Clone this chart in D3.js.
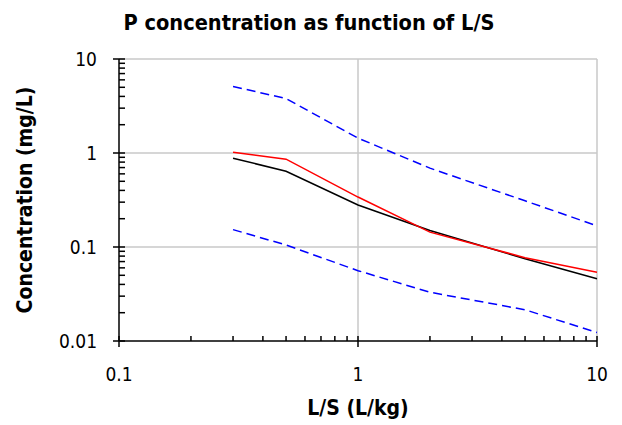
<!DOCTYPE html>
<html><head><meta charset="utf-8">
<script src="https://cdn.jsdelivr.net/npm/d3@7"></script>
<style>body{margin:0;background:#fff}svg{display:block}</style>
</head><body>
<svg id="c" width="622" height="425"></svg>
<script>
const xs = [0.3, 0.5, 1, 2, 5, 10];
const red = [1.02, 0.86, 0.34, 0.144, 0.077, 0.054];
const black = [0.88, 0.64, 0.28, 0.15, 0.075, 0.046];
const upper = [5.1, 3.8, 1.44, 0.69, 0.31, 0.168];
const lower = [0.153, 0.105, 0.056, 0.033, 0.0215, 0.0123];
const xTicks = [0.1, 1, 10];
const yTicks = [0.01, 0.1, 1, 10];
const xTickLabels = ["0.1", "1", "10"];
const yTickLabels = ["0.01", "0.1", "1", "10"];

const svg = d3.select("#c");
const L = 119, R = 597, T = 59, B = 341;
const x = d3.scaleLog().domain([0.1, 10]).range([L, R]);
const y = d3.scaleLog().domain([0.01, 10]).range([B, T]);
const font = "'DejaVu Sans Condensed', 'DejaVu Sans', sans-serif";

// minor values
const minorX = [], minorY = [];
[0.1, 1].forEach(d => { for (let k = 2; k <= 9; k++) minorX.push(d * k); });
[0.01, 0.1, 1].forEach(d => { for (let k = 2; k <= 9; k++) minorY.push(d * k); });

// gridlines
const g = svg.append("g");
g.selectAll(".gy").data(yTicks.slice(1)).join("line")
  .attr("x1", L).attr("x2", R).attr("y1", d => y(d)).attr("y2", d => y(d))
  .attr("stroke", "#c8c8c8").attr("stroke-width", 1.5);
g.selectAll(".gx").data(xTicks.slice(1)).join("line")
  .attr("y1", T).attr("y2", B).attr("x1", d => x(d)).attr("x2", d => x(d))
  .attr("stroke", "#c8c8c8").attr("stroke-width", 1.5);

// series
const line = d3.line().x((d, i) => x(xs[i])).y(d => y(d));
svg.append("path").datum(upper).attr("d", line).attr("fill", "none")
  .attr("stroke", "#0000ff").attr("stroke-width", 1.5).attr("stroke-dasharray", "9,5");
svg.append("path").datum(lower).attr("d", line).attr("fill", "none")
  .attr("stroke", "#0000ff").attr("stroke-width", 1.5).attr("stroke-dasharray", "9,5");
svg.append("path").datum(black).attr("d", line).attr("fill", "none")
  .attr("stroke", "#000").attr("stroke-width", 1.5);
svg.append("path").datum(red).attr("d", line).attr("fill", "none")
  .attr("stroke", "#ff0000").attr("stroke-width", 1.5);

// axes
const ax = svg.append("g").attr("stroke", "#000").attr("stroke-width", 1.5);
ax.append("line").attr("x1", L).attr("x2", R).attr("y1", B).attr("y2", B);
ax.append("line").attr("x1", L).attr("x2", L).attr("y1", T).attr("y2", B);
ax.selectAll(".mx").data(minorX).join("line")
  .attr("x1", d => x(d)).attr("x2", d => x(d)).attr("y1", B).attr("y2", B - 5);
ax.selectAll(".Mx").data(xTicks).join("line")
  .attr("x1", d => x(d)).attr("x2", d => x(d)).attr("y1", B - 5).attr("y2", B + 6);
ax.selectAll(".my").data(minorY).join("line")
  .attr("y1", d => y(d)).attr("y2", d => y(d)).attr("x1", L).attr("x2", L + 6);
ax.selectAll(".My").data(yTicks).join("line")
  .attr("y1", d => y(d)).attr("y2", d => y(d)).attr("x1", L - 6).attr("x2", L + 6);

// tick labels
svg.selectAll(".xl").data(xTicks).join("text")
  .attr("x", d => x(d)).attr("y", 381).attr("text-anchor", "middle")
  .attr("font-family", font).attr("font-size", 19).text((d, i) => xTickLabels[i]);
svg.selectAll(".yl").data(yTicks).join("text")
  .attr("x", 97).attr("y", d => y(d) + 7).attr("text-anchor", "end")
  .attr("font-family", font).attr("font-size", 19).text((d, i) => yTickLabels[i]);

// titles
svg.append("text").attr("x", 309).attr("y", 30).attr("text-anchor", "middle")
  .attr("font-family", font).attr("font-weight", "bold").attr("font-size", 21.6)
  .text("P concentration as function of L/S");
svg.append("text").attr("x", 358).attr("y", 415).attr("text-anchor", "middle")
  .attr("font-family", font).attr("font-weight", "bold").attr("font-size", 21)
  .text("L/S (L/kg)");
svg.append("text").attr("transform", "translate(32,200) rotate(-90)").attr("text-anchor", "middle")
  .attr("font-family", font).attr("font-weight", "bold").attr("font-size", 21)
  .text("Concentration (mg/L)");
</script>
</body></html>
